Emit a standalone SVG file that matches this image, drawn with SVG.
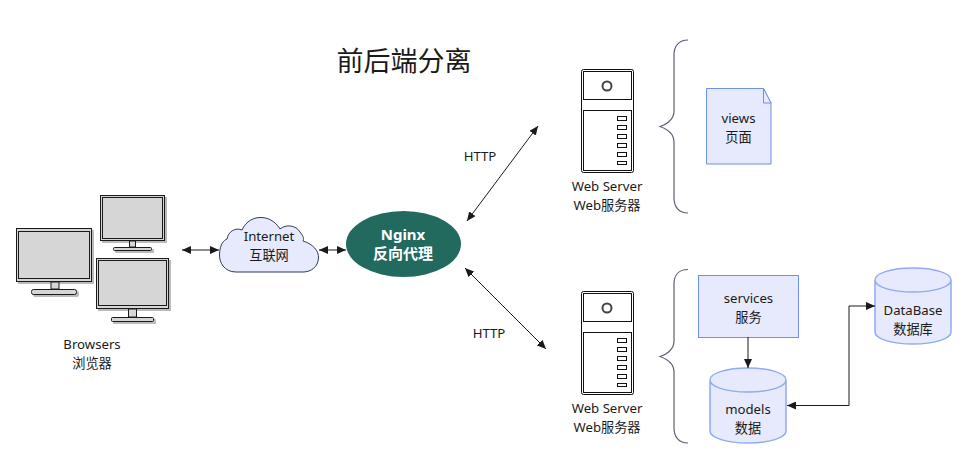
<svg xmlns="http://www.w3.org/2000/svg" width="977" height="475" viewBox="0 0 977 475">
<style>
text{font-family:"Noto Sans","Noto Sans CJK SC",sans-serif;font-size:13.200px;fill:#1a1a1a;text-anchor:middle}
.t{font-size:27px}
.n{font-size:15px;font-weight:bold;fill:#fff}
.m{fill:#d6d6d6;stroke:#1a1a1a;stroke-width:1}
.sh{fill:#bbb;stroke:none}
.s{fill:#fff;stroke:#111;stroke-width:1}
.s2{fill:none;stroke:#111;stroke-width:1}
.c{fill:#e6eafc;stroke:#6c8ff0;stroke-width:1}
.cy{fill:#e6eafc;stroke:#8fabf5;stroke-width:1.5}
.b{fill:none;stroke:#5a5f78;stroke-width:1.2}
.l{fill:none;stroke:#1a1a1a;stroke-width:1;marker-start:url(#a);marker-end:url(#a)}
.l1{fill:none;stroke:#1a1a1a;stroke-width:1;marker-end:url(#a)}
</style>
<defs><marker id="a" viewBox="0 0 9 8" refX="9" refY="4" markerWidth="9" markerHeight="8" markerUnits="userSpaceOnUse" orient="auto-start-reverse"><path d="M0 0L9 4L0 8Z" fill="#1a1a1a"/></marker></defs>
<rect width="977" height="475" fill="#fff"/>
<text class="t" x="404" y="71">前后端分离</text>
<g id="browsers">
<rect class="sh" x="18" y="230" width="76" height="54"/><rect class="sh" x="33" y="291" width="46" height="6" rx="2"/>
<rect class="m" x="16.500" y="228.500" width="75" height="53"/><rect class="m" x="18.500" y="231.500" width="71" height="47"/><rect class="m" x="51" y="282" width="8" height="7"/><rect class="m" x="31.500" y="289.500" width="45" height="5" rx="2"/>
<rect class="sh" x="102" y="197" width="65" height="46"/><rect class="sh" x="115" y="249" width="39" height="4" rx="1"/>
<rect class="m" x="100.500" y="195.500" width="64" height="45"/><rect class="m" x="102.500" y="197.500" width="60" height="41"/><rect class="m" x="129.500" y="241" width="6" height="6"/><rect class="m" x="113.500" y="247.500" width="38" height="3" rx="1"/>
<rect class="sh" x="98" y="260" width="73" height="51"/><rect class="sh" x="113" y="319" width="43" height="5" rx="1"/>
<rect class="m" x="96.500" y="258.500" width="72" height="50"/><rect class="m" x="98.500" y="260.500" width="68" height="45"/><rect class="m" x="128.500" y="309" width="8" height="8"/><rect class="m" x="111.500" y="317.500" width="42" height="4" rx="1"/>
<text x="92" y="349">Browsers</text><text x="92" y="368">浏览器</text>
</g>
<g id="internet">
<path d="M236 272C224 272 219 262 219.500 254C220 244 224 240 227 239C228 232 235 227 242 230C246 221 254 217 262 217.500C271 218 277 224 280 229C286 224 296 225 300 232C304 237 304 239 303 241C313 244 319 251 318.500 258C318 267 311 272 303 272Z" fill="#e6eafc" stroke="#2f3a5a" stroke-width="1"/>
<text x="269" y="241">Internet</text><text x="269" y="260">互联网</text>
</g>
<g id="nginx">
<ellipse cx="403.500" cy="244" rx="57.500" ry="33" fill="#226a5e"/>
<text class="n" x="403" y="240">Nginx</text><text class="n" x="403" y="259">反向代理</text>
</g>
<g id="server1">
<rect class="s" x="581.500" y="69.500" width="52" height="103" rx="2"/><rect class="s2" x="583.500" y="71.500" width="48" height="28"/><rect class="s2" x="583.500" y="110.500" width="48" height="60"/>
<circle cx="607" cy="86" r="4.500" fill="#fff" stroke="#444" stroke-width="2"/>
<rect class="s2" x="617.500" y="116.500" width="9" height="4"/><rect class="s2" x="617.500" y="125.500" width="9" height="4"/><rect class="s2" x="617.500" y="134.500" width="9" height="4"/><rect class="s2" x="617.500" y="143.500" width="9" height="4"/><rect class="s2" x="617.500" y="152.500" width="9" height="4"/><rect class="s2" x="617.500" y="161.500" width="9" height="3"/>
<text x="607" y="191">Web Server</text><text x="607" y="210">Web服务器</text>
</g>
<g id="server2">
<rect class="s" x="581.500" y="291.500" width="52" height="103" rx="2"/><rect class="s2" x="583.500" y="293.500" width="48" height="28"/><rect class="s2" x="583.500" y="332.500" width="48" height="60"/>
<circle cx="607" cy="308" r="4.500" fill="#fff" stroke="#444" stroke-width="2"/>
<rect class="s2" x="617.500" y="338.500" width="9" height="4"/><rect class="s2" x="617.500" y="347.500" width="9" height="4"/><rect class="s2" x="617.500" y="356.500" width="9" height="4"/><rect class="s2" x="617.500" y="365.500" width="9" height="4"/><rect class="s2" x="617.500" y="374.500" width="9" height="4"/><rect class="s2" x="617.500" y="383.500" width="9" height="3"/>
<text x="607" y="191" transform="translate(0 222)">Web Server</text><text x="607" y="432">Web服务器</text>
</g>
<g id="brace1"><path class="b" d="M688 40C679 40 674 46 674 55V111C674 119 667 124 660 126.500C667 129 674 134 674 142V198C674 207 679 213 688 213"/></g>
<g id="brace2"><path class="b" d="M688 269.500C679 269.500 674 275 674 284V341C674 349 667 354 660 356.500C667 359 674 364 674 372V428C674 437 679 443 688 443"/></g>
<g id="views">
<path class="c" d="M706.500 88.500H763.500L771 103V164H706.500Z"/><path class="c" d="M763.500 88.500V103H771Z"/>
<text x="738.500" y="123">views</text><text x="738.500" y="142">页面</text>
</g>
<g id="services">
<rect class="c" x="698.500" y="275.500" width="100" height="62"/>
<text x="748.500" y="303">services</text><text x="748.500" y="322">服务</text>
</g>
<g id="models">
<path class="cy" d="M710 380V431C710 438 727 443 748 443C769 443 786 438 786 431V380C786 373 769 368 748 368C727 368 710 373 710 380C710 387 727 392 748 392C769 392 786 387 786 380"/>
<text x="748" y="414">models</text><text x="748" y="433">数据</text>
</g>
<g id="database">
<path class="cy" d="M875 280V332C875 339 892 344 913 344C934 344 951 339 951 332V280C951 273 934 268 913 268C892 268 875 273 875 280C875 287 892 292 913 292C934 292 951 287 951 280"/>
<text x="913" y="315">DataBase</text><text x="913" y="334">数据库</text>
</g>
<g id="connectors">
<path class="l" d="M182 250H219"/>
<path class="l" d="M319 250H346"/>
<path class="l" d="M538 126L467 221"/>
<path class="l" d="M465 268L546 349"/>
<path class="l1" d="M748 337V368"/>
<path class="l" d="M787 405.500H849V306H875"/>
<text x="480" y="161">HTTP</text>
<text x="489" y="338">HTTP</text>
</g>
</svg>
